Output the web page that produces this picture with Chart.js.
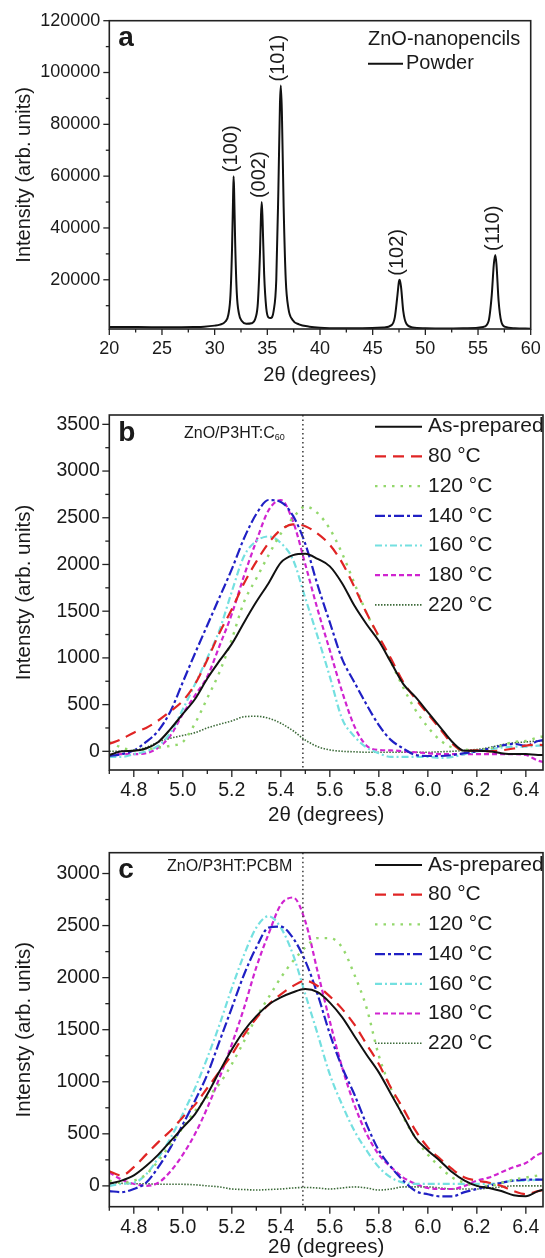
<!DOCTYPE html>
<html>
<head>
<meta charset="utf-8">
<script src="https://cdn.jsdelivr.net/npm/chart.js@4.4.1/dist/chart.umd.min.js"></script>
<style>
html, body { margin: 0; padding: 0; background: #fff; overflow: hidden; }
#wrap { position: relative; width: 545px; height: 1258px; }
canvas { position: absolute; left: 0; }
</style>
</head>
<body>
<div id="wrap">
  <canvas id="chartA" width="545" height="400" style="top:0px"></canvas>
  <canvas id="chartB" width="545" height="430" style="top:400px"></canvas>
  <canvas id="chartC" width="545" height="428" style="top:830px"></canvas>
</div>
<script>
'use strict';

// ---- panel a : powder pattern ----
const powderTheta = [20, 22, 24, 26, 28, 29, 30, 30.5, 31.0, 31.3, 31.5, 31.65, 31.75, 31.8, 31.85, 31.95, 32.1, 32.3, 32.6, 33.0,
  33.5, 33.9, 34.1, 34.3, 34.4, 34.47, 34.55, 34.7, 34.9, 35.1, 35.3, 35.6, 35.85, 36.05, 36.2, 36.28, 36.38, 36.55, 36.75, 37.0,
  37.4, 38, 39, 40, 42, 44, 46, 46.8, 47.1, 47.35, 47.5, 47.57, 47.7, 47.9, 48.2, 48.8, 50, 52, 54, 55.5,
  56.0, 56.3, 56.5, 56.64, 56.75, 56.95, 57.2, 57.6, 58.5, 60];
const powderCounts = [1800, 1750, 1700, 1700, 1800, 1900, 2300, 2700, 3800, 6500, 14000, 32000, 52000, 60000, 54000, 34000, 15000, 7000, 4000, 3000,
  3200, 5500, 11000, 30000, 45000, 50000, 43000, 22000, 9000, 5500, 5200, 8000, 20000, 55000, 88000, 95000, 85000, 48000, 20000, 9000,
  4500, 2800, 1900, 1500, 1300, 1300, 1600, 2500, 5500, 14000, 19500, 20000, 17000, 8000, 3000, 1600, 1300, 1200, 1300, 1800,
  4000, 14000, 26000, 29600, 26000, 12000, 4000, 1800, 1300, 1100];
const peakNames = ['(100)', '(002)', '(101)', '(102)', '(110)'];
const peakTheta = [31.8, 34.47, 36.28, 47.57, 56.64];
const peakCounts = [60000, 50000, 95000, 20000, 29600];

const aXMajor = [20, 25, 30, 35, 40, 45, 50, 55, 60];
const aXMinor = [22.5, 27.5, 32.5, 37.5, 42.5, 47.5, 52.5, 57.5];
const aYMajor = [20000, 40000, 60000, 80000, 100000, 120000];
const aYMinor = [10000, 30000, 50000, 70000, 90000, 110000];

// ---- panels b and c : annealing series ----
const seriesNames = ['As-prepared', '80 °C', '120 °C', '140 °C', '160 °C', '180 °C', '220 °C'];
const thetaGrid = [4.70, 4.75, 4.80, 4.85, 4.90, 4.95, 5.00, 5.05, 5.10, 5.15, 5.20, 5.25, 5.30, 5.35, 5.40, 5.45, 5.50, 5.55, 5.60,
  5.65, 5.70, 5.75, 5.80, 5.85, 5.90, 5.95, 6.00, 6.05, 6.10, 6.15, 6.20, 6.25, 6.30, 6.35, 6.40, 6.45, 6.50];

const c60AsPrepared = [-40, 0, 5, 30, 100, 240, 400, 560, 780, 970, 1150, 1380, 1600, 1800, 2020, 2100, 2115, 2060, 1980, 1800, 1560, 1360, 1180, 950, 720, 580, 420, 260, 100, 5, 5, 0, -20, -30, -30, -40, -40];
const c60T80 = [80, 130, 200, 250, 330, 430, 540, 720, 980, 1270, 1520, 1800, 2030, 2230, 2370, 2430, 2410, 2330, 2210, 2020, 1760, 1480, 1230, 990, 740, 560, 400, 240, 80, 5, 10, 0, 10, 30, 60, 70, 60];
const c60T120 = [100, 40, 10, 20, 40, 60, 100, 300, 570, 850, 1200, 1600, 1850, 2100, 2330, 2500, 2620, 2550, 2380, 2120, 1800, 1480, 1220, 950, 680, 440, 260, 120, 40, 20, 10, 30, 60, 100, 110, 150, 170];
const c60T140 = [-50, -30, 10, 100, 220, 430, 740, 1050, 1350, 1650, 1950, 2280, 2540, 2690, 2670, 2520, 2220, 1780, 1380, 990, 740, 500, 280, 120, 30, -40, -50, -50, -40, -20, 0, 30, 60, 80, 60, 110, 130];
const c60T160 = [-60, -60, -30, 0, 60, 200, 450, 720, 1000, 1300, 1710, 2090, 2250, 2300, 2230, 2050, 1640, 1230, 800, 350, 160, 40, -20, -60, -60, -60, -60, -70, -60, -30, 0, 20, 40, 50, 50, 60, 60];
const c60T180 = [-40, -30, -30, -20, 40, 170, 400, 600, 800, 1130, 1470, 1880, 2250, 2580, 2690, 2460, 2000, 1520, 1080, 640, 270, 60, 15, 10, 0, -10, -20, -30, -30, -30, -30, -30, -30, -30, -40, -100, -130];
const c60T220 = [0, 0, 10, 40, 100, 140, 170, 200, 250, 290, 325, 370, 375, 355, 300, 220, 120, 50, 15, 0, -5, -10, -10, -10, -10, -10, -10, -5, 0, 10, 20, 40, 70, 90, 100, 110, 110];

const pcbmAsPrepared = [20, 50, 100, 190, 300, 430, 560, 690, 880, 1100, 1310, 1490, 1630, 1740, 1810, 1860, 1890, 1860, 1760, 1620, 1440, 1260, 1090, 880, 670, 460, 340, 240, 130, 50, 0, -20, -50, -90, -100, -50, -20];
const pcbmT80 = [140, 100, 180, 300, 420, 530, 660, 780, 940, 1100, 1260, 1450, 1610, 1740, 1840, 1920, 1970, 1920, 1820, 1700, 1550, 1360, 1170, 940, 740, 530, 370, 260, 160, 80, 50, 30, 0, -50, -80, -50, -30];
const pcbmT120 = [50, 30, 50, 110, 240, 400, 560, 720, 850, 980, 1170, 1390, 1620, 1810, 2000, 2160, 2290, 2380, 2380, 2290, 2030, 1710, 1250, 930, 660, 460, 300, 180, 80, 30, 0, 0, 30, 60, 80, 100, 110];
const pcbmT140 = [-50, -60, -30, 30, 180, 370, 590, 820, 1070, 1390, 1710, 2030, 2290, 2480, 2490, 2380, 2160, 1840, 1460, 1140, 880, 590, 340, 180, 50, -50, -80, -100, -100, -60, -30, 0, 30, 50, 60, 60, 60];
const pcbmT160 = [0, 20, 30, 110, 270, 460, 690, 940, 1230, 1550, 1900, 2220, 2480, 2590, 2480, 2220, 1840, 1460, 1070, 780, 530, 340, 180, 80, 30, 20, 20, 20, 20, 20, 20, 20, 30, 50, 50, 60, 60];
const pcbmT180 = [130, 60, 20, 0, 30, 140, 300, 500, 750, 1040, 1360, 1710, 2100, 2420, 2700, 2770, 2540, 2060, 1580, 1140, 780, 500, 300, 180, 80, 20, -20, -30, -30, 0, 50, 80, 130, 180, 220, 300, 340];
const pcbmT220 = [30, 25, 20, 20, 15, 15, 15, 10, 0, -10, -30, -35, -40, -35, -30, -20, -15, -20, -30, -20, -10, -20, -40, -30, -10, -10, -10, -20, -30, -30, -30, -20, -10, 0, 0, 0, 0];

const bcXMajor = [4.8, 5.0, 5.2, 5.4, 5.6, 5.8, 6.0, 6.2, 6.4];
const bcXMinor = [4.7, 4.9, 5.1, 5.3, 5.5, 5.7, 5.9, 6.1, 6.3];
const bYMajor = [0, 500, 1000, 1500, 2000, 2500, 3000, 3500];
const bYMinor = [250, 750, 1250, 1750, 2250, 2750, 3250];
const cYMajor = [0, 500, 1000, 1500, 2000, 2500, 3000];
const cYMinor = [250, 750, 1250, 1750, 2250, 2750];

const FONT = 'Arimo, "Liberation Sans", Arial, Helvetica, sans-serif';
const INK = '#1a1a1a';

const lineStyles = [
  { color: '#111111', dash: [], width: 2 },
  { color: '#e02424', dash: [11, 7], width: 2.2 },
  { color: '#93d86c', dash: [2.5, 6], width: 2.4 },
  { color: '#2020c4', dash: [10, 3, 3, 3], width: 2.2 },
  { color: '#74e0e0', dash: [7, 3, 2, 3], width: 2.2 },
  { color: '#d024d0', dash: [5, 3], width: 2.2 },
  { color: '#3d6b3a', dash: [1.5, 1.5], width: 1.6 }
];

function pairs(xs, ys) {
  return xs.map((v, i) => ({ x: v, y: ys[i] }));
}

// ticks, frame, legend and labels drawn on top of the plot
const panelDeco = {
  id: 'panelDeco',
  afterDatasetsDraw(chart, args, o) {
    const { ctx, chartArea: area } = chart;
    const xs = chart.scales.x, ys = chart.scales.y;
    ctx.save();

    if (o.refLine !== undefined) {
      const px = xs.getPixelForValue(o.refLine);
      ctx.strokeStyle = '#444';
      ctx.lineWidth = 1.6;
      ctx.setLineDash([1.5, 3]);
      ctx.beginPath();
      ctx.moveTo(px, area.top);
      ctx.lineTo(px, area.bottom);
      ctx.stroke();
      ctx.setLineDash([]);
    }

    ctx.strokeStyle = '#222';
    ctx.lineWidth = 1.6;
    ctx.strokeRect(area.left, area.top, area.right - area.left, area.bottom - area.top);

    ctx.lineWidth = 1.3;
    const xTicks = (vals, len) => vals.forEach(v => {
      const p = xs.getPixelForValue(v);
      if (p < area.left - 0.5 || p > area.right + 0.5) return;
      ctx.beginPath(); ctx.moveTo(p, area.bottom); ctx.lineTo(p, area.bottom + len); ctx.stroke();
    });
    const yTicks = (vals, len) => vals.forEach(v => {
      const p = ys.getPixelForValue(v);
      if (p < area.top - 0.5 || p > area.bottom + 0.5) return;
      ctx.beginPath(); ctx.moveTo(area.left - len, p); ctx.lineTo(area.left, p); ctx.stroke();
    });
    xTicks(o.xMajor, o.major); xTicks(o.xMinor, o.minor);
    yTicks(o.yMajor, o.major); yTicks(o.yMinor, o.minor);

    ctx.fillStyle = INK;
    ctx.textBaseline = 'middle';
    ctx.textAlign = 'left';
    ctx.font = 'bold 28px ' + FONT;
    ctx.fillText(o.letter, area.left + 9, area.top + 18);

    if (o.sample) {
      ctx.font = '16px ' + FONT;
      ctx.fillText(o.sample, o.sampleX, area.top + o.sampleDy);
      if (o.sampleSub) {
        const w = ctx.measureText(o.sample).width;
        ctx.font = '9px ' + FONT;
        ctx.fillText(o.sampleSub, o.sampleX + w, area.top + o.sampleDy + 4);
      }
    }

    if (o.legend) {
      const L = o.legend;
      ctx.font = L.size + 'px ' + FONT;
      chart.data.datasets.forEach((ds, i) => {
        const yy = area.top + L.dy + i * L.step;
        ctx.strokeStyle = ds.borderColor;
        ctx.lineWidth = ds.borderWidth;
        ctx.setLineDash(ds.borderDash || []);
        ctx.beginPath(); ctx.moveTo(L.x0, yy); ctx.lineTo(L.x1, yy); ctx.stroke();
        ctx.setLineDash([]);
        ctx.fillStyle = INK;
        ctx.fillText(ds.label, L.tx, yy);
      });
    }

    if (o.peaks) {
      ctx.font = '20px ' + FONT;
      o.peaks.names.forEach((name, i) => {
        const px = xs.getPixelForValue(o.peaks.x[i]) - 2;
        const py = ys.getPixelForValue(o.peaks.y[i]) - 4;
        ctx.save();
        ctx.translate(px, py);
        ctx.rotate(-Math.PI / 2);
        ctx.textAlign = 'left';
        ctx.fillText(name, 0, 0);
        ctx.restore();
      });
    }

    if (o.topNote) {
      ctx.font = '20px ' + FONT;
      ctx.fillText(o.topNote, o.topNoteX, area.top + 19);
      ctx.lineWidth = 2;
      ctx.strokeStyle = '#111';
      ctx.beginPath(); ctx.moveTo(o.topNoteX, area.top + 43); ctx.lineTo(o.topNoteX + 35, area.top + 43); ctx.stroke();
      ctx.fillText('Powder', o.topNoteX + 38, area.top + 43);
    }
    ctx.restore();
  }
};

function fixBox(size, horizontal) {
  return scale => {
    if (horizontal) scale.height = size; else scale.width = size;
    scale.paddingLeft = 0; scale.paddingRight = 0;
    scale.paddingTop = 0; scale.paddingBottom = 0;
  };
}
function setTicks(values) {
  return scale => { scale.ticks = values.map(v => ({ value: v })); };
}

function axis(cfg) {
  return {
    type: 'linear',
    min: cfg.min,
    max: cfg.max,
    afterBuildTicks: setTicks(cfg.ticks),
    afterFit: fixBox(cfg.box, cfg.horizontal),
    grid: { display: false, drawTicks: false },
    border: { display: false },
    ticks: {
      autoSkip: false, maxRotation: 0, padding: cfg.pad, color: INK,
      font: { family: FONT, size: cfg.tickSize, lineHeight: 1 },
      callback: cfg.fmt
    },
    title: {
      display: true, text: cfg.title, color: INK,
      font: { family: FONT, size: cfg.titleSize, lineHeight: 1 },
      padding: cfg.titlePad
    }
  };
}

// panel a
new Chart(document.getElementById('chartA'), {
  type: 'line',
  data: {
    datasets: [{
      label: 'Powder',
      data: pairs(powderTheta, powderCounts),
      borderColor: '#111', borderWidth: 2, pointRadius: 0,
      cubicInterpolationMode: 'monotone'
    }]
  },
  options: {
    responsive: false, animation: false,
    layout: { padding: { top: 20.7, right: 14.3, left: 0, bottom: 0 } },
    plugins: {
      legend: { display: false }, tooltip: { enabled: false },
      panelDeco: {
        letter: 'a', major: 6, minor: 3.5,
        xMajor: aXMajor, xMinor: aXMinor, yMajor: aYMajor, yMinor: aYMinor,
        peaks: { names: peakNames, x: peakTheta, y: peakCounts },
        topNote: 'ZnO-nanopencils', topNoteX: 368
      }
    },
    scales: {
      x: axis({ min: 20, max: 60, ticks: aXMajor, box: 71, horizontal: true, pad: 11.5, tickSize: 18,
        fmt: v => String(v), title: '2θ (degrees)', titleSize: 20, titlePad: { top: 0, bottom: 15 } }),
      y: axis({ min: 1000, max: 120000, ticks: aYMajor, box: 109.3, horizontal: false, pad: 9, tickSize: 18,
        fmt: v => String(v), title: 'Intensity (arb. units)', titleSize: 20, titlePad: { top: 14, bottom: 0 } })
    }
  },
  plugins: [panelDeco]
});

function seriesSets(rows) {
  return rows.map((ys, i) => ({
    label: seriesNames[i],
    data: pairs(thetaGrid, ys),
    borderColor: lineStyles[i].color,
    borderDash: lineStyles[i].dash,
    borderWidth: lineStyles[i].width,
    pointRadius: 0,
    cubicInterpolationMode: 'monotone'
  }));
}

function annealPanel(id, rows, yMin, yMax, yMajor, yMinor, letter, topPad, xBox, note, noteSub, noteX, noteDy, legendDy) {
  new Chart(document.getElementById(id), {
    type: 'line',
    data: { datasets: seriesSets(rows) },
    options: {
      responsive: false, animation: false,
      layout: { padding: { top: topPad, right: 2, left: 0, bottom: 0 } },
      plugins: {
        legend: { display: false }, tooltip: { enabled: false },
        panelDeco: {
          letter: letter, major: 7, minor: 4,
          xMajor: bcXMajor, xMinor: bcXMinor, yMajor: yMajor, yMinor: yMinor,
          refLine: 5.49,
          sample: note, sampleSub: noteSub, sampleX: noteX, sampleDy: noteDy,
          legend: { x0: 375, x1: 422, tx: 428, dy: legendDy, step: 29.7, size: 21 }
        }
      },
      scales: {
        x: axis({ min: 4.7, max: 6.47, ticks: bcXMajor, box: xBox, horizontal: true, pad: 11, tickSize: 19.5,
          fmt: v => v.toFixed(1), title: '2θ (degrees)', titleSize: 20.5,
          titlePad: { top: 0, bottom: Math.max(0, xBox - 55.25) } }),
        y: axis({ min: yMin, max: yMax, ticks: yMajor, box: 109.3, horizontal: false, pad: 9.5, tickSize: 19.5,
          fmt: v => String(v), title: 'Intensty (arb. units)', titleSize: 20.5, titlePad: { top: 13.75, bottom: 0 } })
      }
    },
    plugins: [panelDeco]
  });
}

annealPanel('chartB', [c60AsPrepared, c60T80, c60T120, c60T140, c60T160, c60T180, c60T220],
  -200, 3600, bYMajor, bYMinor, 'b', 15, 60, 'ZnO/P3HT:C', '60', 184, 19, 11.7);
annealPanel('chartC', [pcbmAsPrepared, pcbmT80, pcbmT120, pcbmT140, pcbmT160, pcbmT180, pcbmT220],
  -200, 3200, cYMajor, cYMinor, 'c', 22.7, 51.3, 'ZnO/P3HT:PCBM', '', 167, 13.5, 12.3);
</script>
</body>
</html>
